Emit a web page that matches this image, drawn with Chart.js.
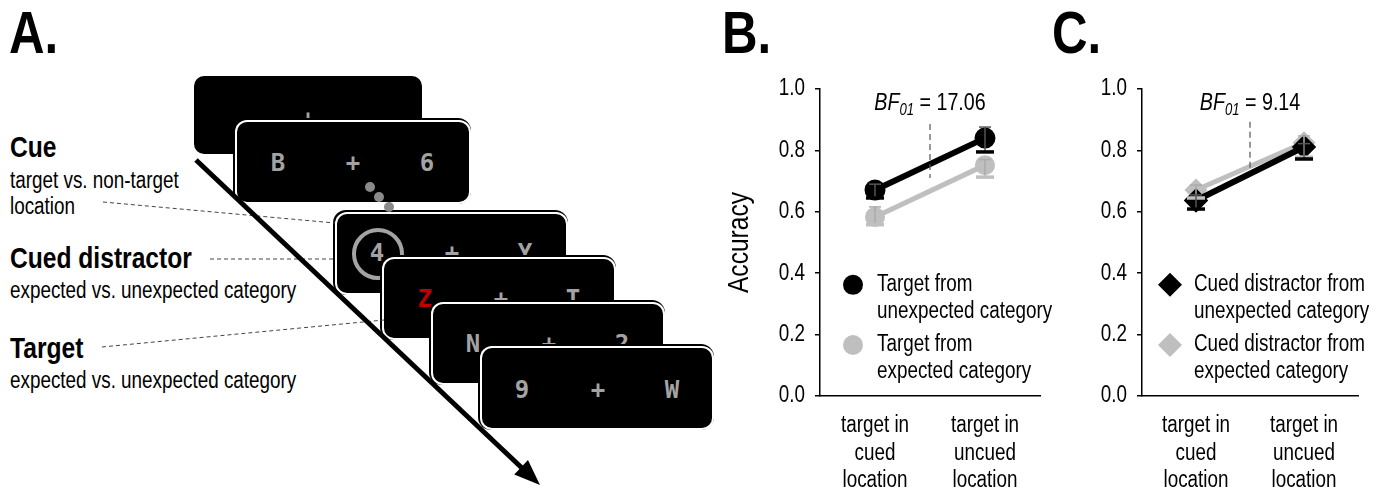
<!DOCTYPE html>
<html>
<head>
<meta charset="utf-8">
<script src="https://cdn.jsdelivr.net/npm/chart.js@4.4.1/dist/chart.umd.min.js"></script>
<style>
  body { margin: 0; background: #fff; width: 1384px; height: 490px; overflow: hidden; position: relative;
         font-family: "Liberation Sans", Arial, sans-serif; color: #000; }
  .abs { position: absolute; white-space: nowrap; }
  .letter { font-weight: bold; font-size: 60px; line-height: 60px; transform: scaleX(0.82); transform-origin: left top; }
  .head { font-weight: bold; font-size: 30px; line-height: 30px; transform: translateY(-50%) scaleX(0.82); transform-origin: left center; }
  .sub { font-size: 23px; line-height: 23px; transform: translateY(-50%) scaleX(0.82); transform-origin: left center; }
  .scr { position: absolute; background: #000; border-radius: 10px; box-shadow: 0 0 0 2px #fff, -1px -1px 0 3px #000; }
  .ch { position: absolute; transform: translate(-50%, -50%); font: bold 24px "DejaVu Sans Mono", monospace;
        color: #a3a3a3; line-height: 1; }
  canvas { position: absolute; }
</style>
</head>
<body>

<div class="abs letter" style="left:9px;top:3px">A.</div>
<div class="abs letter" style="left:722px;top:3px">B.</div>
<div class="abs letter" style="left:1052px;top:3px">C.</div>

<div class="abs head" style="left:10px;top:147px">Cue</div>
<div class="abs sub" style="left:10px;top:180px">target vs. non-target</div>
<div class="abs sub" style="left:10px;top:206px">location</div>
<div class="abs head" style="left:10px;top:258px">Cued distractor</div>
<div class="abs sub" style="left:10px;top:290px">expected vs. unexpected category</div>
<div class="abs head" style="left:10px;top:348px">Target</div>
<div class="abs sub" style="left:10px;top:380px">expected vs. unexpected category</div>

<div id="screens"></div>
<canvas id="overlay" width="720" height="490" style="left:0;top:0"></canvas>

<canvas id="chartB" width="340" height="490" style="left:720px;top:0"></canvas>
<canvas id="chartC" width="324" height="490" style="left:1060px;top:0"></canvas>

<script>
// ---- data ----
const categories = [['target in', 'cued', 'location'], ['target in', 'uncued', 'location']];

// panel B: target category
const bUnexpected = [0.671, 0.840];
const bUnexpectedLow = [0.645, 0.795];
const bUnexpectedHigh = [0.690, 0.876];
const bExpected = [0.583, 0.752];
const bExpectedLow = [0.558, 0.713];
const bExpectedHigh = [0.616, 0.770];
const bLegend = [['Target from', 'unexpected category'], ['Target from', 'expected category']];
const bfB = '17.06';
const bfLineB = [0.886, 0.71];

// panel C: cued distractor category
const cUnexpected = [0.637, 0.811];
const cUnexpectedLow = [0.609, 0.772];
const cUnexpectedHigh = [0.655, 0.822];
const cExpected = [0.671, 0.825];
const cExpectedLow = [0.645, 0.778];
const cExpectedHigh = [0.687, 0.847];
const cLegend = [['Cued distractor from', 'unexpected category'], ['Cued distractor from', 'expected category']];
const bfC = '9.14';
const bfLineC = [0.893, 0.73];

const FONT = '"Liberation Sans", Arial, sans-serif';
const NARROW_K = 0.82; // no narrow font installed, so squeeze the text
const GREY = '#bfbfbf';

// ---- panel A (schematic) ----
const screens = [
  { x: 194, y: 76, w: 228, h: 78, plain: true, chars: [['+', 308, 119]] },
  { x: 237, y: 122, w: 232, h: 80, chars: [['B', 278, 163], ['+', 353, 163], ['6', 427, 163]] },
  { x: 337, y: 214, w: 229, h: 79, ring: [377, 253], chars: [['4', 377, 253], ['+', 452, 253], ['Y', 525, 253]] },
  { x: 384, y: 259, w: 230, h: 79, chars: [['Z', 425, 299, '#c00000'], ['+', 501, 299], ['T', 573, 299]] },
  { x: 433, y: 304, w: 230, h: 79, chars: [['N', 473, 344], ['+', 549, 344], ['2', 622, 344]] },
  { x: 482, y: 348, w: 230, h: 80, chars: [['9', 522, 390], ['+', 598, 390], ['W', 672, 390]] }
];
const holder = document.getElementById('screens');
screens.forEach(s => {
  const d = document.createElement('div');
  d.className = 'scr';
  d.style.cssText = `left:${s.x}px;top:${s.y}px;width:${s.w}px;height:${s.h}px;` +
    (s.plain ? 'box-shadow:none;' : '');
  holder.appendChild(d);
  if (s.ring) {
    const r = document.createElement('div');
    r.className = 'abs';
    r.style.cssText = `left:${s.ring[0] - 25}px;top:${s.ring[1] - 25}px;width:44px;height:44px;` +
      'border:4px solid #a3a3a3;border-radius:50%';
    holder.appendChild(r);
  }
  s.chars.forEach(c => {
    const t = document.createElement('div');
    t.className = 'ch';
    t.textContent = c[0];
    t.style.left = c[1] + 'px';
    t.style.top = c[2] + 'px';
    if (c[3]) t.style.color = c[3];
    holder.appendChild(t);
  });
});

(function drawOverlay() {
  const ctx = document.getElementById('overlay').getContext('2d');
  // cue dots
  ctx.fillStyle = '#8a8a8a';
  [[370, 187], [379, 197], [389, 207]].forEach(p => {
    ctx.beginPath(); ctx.arc(p[0], p[1], 5, 0, Math.PI * 2); ctx.fill();
  });
  // dashed leader lines
  ctx.strokeStyle = '#444';
  ctx.lineWidth = 1;
  ctx.setLineDash([4, 3]);
  [[103, 202, 335, 223], [210, 259, 333, 259], [102, 347, 384, 320]].forEach(l => {
    ctx.beginPath(); ctx.moveTo(l[0], l[1]); ctx.lineTo(l[2], l[3]); ctx.stroke();
  });
  ctx.setLineDash([]);
  // time arrow
  const x0 = 196, y0 = 160, x1 = 540, y1 = 485;
  const ang = Math.atan2(y1 - y0, x1 - x0);
  const hl = 26, hw = 10;
  ctx.strokeStyle = '#000';
  ctx.lineWidth = 5;
  ctx.beginPath();
  ctx.moveTo(x0, y0);
  ctx.lineTo(x1 - Math.cos(ang) * hl * 0.8, y1 - Math.sin(ang) * hl * 0.8);
  ctx.stroke();
  ctx.fillStyle = '#000';
  ctx.beginPath();
  ctx.moveTo(x1, y1);
  ctx.lineTo(x1 - Math.cos(ang) * hl - Math.sin(ang) * hw, y1 - Math.sin(ang) * hl + Math.cos(ang) * hw);
  ctx.lineTo(x1 - Math.cos(ang) * hl + Math.sin(ang) * hw, y1 - Math.sin(ang) * hl - Math.cos(ang) * hw);
  ctx.closePath();
  ctx.fill();
})();

// squeeze every text the chart draws on this canvas horizontally
function condense(canvas) {
  const ctx = canvas.getContext('2d');
  const orig = CanvasRenderingContext2D.prototype.fillText;
  ctx.fillText = function (t, x, y, mw) {
    this.save();
    this.translate(x, y);
    this.scale(NARROW_K, 1);
    if (mw === undefined) orig.call(this, t, 0, 0);
    else orig.call(this, t, 0, 0, mw / NARROW_K);
    this.restore();
  };
  return canvas;
}

// ---- plugins ----
const errorBars = {
  id: 'errorBars',
  afterDatasetsDraw(chart) {
    const ctx = chart.ctx, ys = chart.scales.y;
    const seg = (a, b, c, d) => { ctx.beginPath(); ctx.moveTo(a, b); ctx.lineTo(c, d); ctx.stroke(); };
    for (let i = chart.data.datasets.length - 1; i >= 0; i--) {
      const ds = chart.data.datasets[i];
      chart.getDatasetMeta(i).data.forEach((pt, j) => {
        const yl = ys.getPixelForValue(ds.errLow[j]), yh = ys.getPixelForValue(ds.errHigh[j]);
        ctx.save();
        ctx.strokeStyle = ds.errColor;
        ctx.lineWidth = 1.5;
        seg(pt.x, yl, pt.x, yh);
        seg(pt.x - 6, yh, pt.x + 6, yh);
        ctx.strokeStyle = ds.borderColor;
        ctx.lineWidth = 3.5;
        seg(pt.x - 9, yl, pt.x + 9, yl);
        ctx.restore();
      });
    }
  }
};

const bfNote = {
  id: 'bfNote',
  afterDraw(chart, args, opts) {
    const ctx = chart.ctx, xs = chart.scales.x, ys = chart.scales.y;
    const x = xs.getPixelForValue(0.5);
    ctx.save();
    ctx.strokeStyle = '#555';
    ctx.lineWidth = 1.2;
    ctx.setLineDash([6, 4]);
    ctx.beginPath();
    ctx.moveTo(x, ys.getPixelForValue(opts.line[0]));
    ctx.lineTo(x, ys.getPixelForValue(opts.line[1]));
    ctx.stroke();
    ctx.setLineDash([]);
    const fBig = `italic 24px ${FONT}`, fSub = `italic 16px ${FONT}`, fReg = `24px ${FONT}`;
    const rest = ' = ' + opts.value;
    ctx.font = fBig; const w1 = ctx.measureText('BF').width * NARROW_K;
    ctx.font = fSub; const w2 = ctx.measureText('01').width * NARROW_K;
    ctx.font = fReg; const w3 = ctx.measureText(rest).width * NARROW_K;
    let tx = x - (w1 + w2 + w3) / 2;
    const ty = ys.getPixelForValue(opts.textY);
    ctx.fillStyle = '#000';
    ctx.textBaseline = 'alphabetic';
    ctx.textAlign = 'left';
    ctx.font = fBig; ctx.fillText('BF', tx, ty); tx += w1;
    ctx.font = fSub; ctx.fillText('01', tx, ty + 5); tx += w2;
    ctx.font = fReg; ctx.fillText(rest, tx, ty);
    ctx.restore();
  }
};

const innerLegend = {
  id: 'innerLegend',
  afterDraw(chart, args, opts) {
    const ctx = chart.ctx, ys = chart.scales.y, left = chart.chartArea.left;
    ctx.save();
    chart.data.datasets.forEach((ds, i) => {
      const cy = ys.getPixelForValue(opts.rows[i]);
      const mx = left + opts.markerX, r = opts.markerR;
      ctx.fillStyle = ds.backgroundColor;
      ctx.beginPath();
      if (ds.pointStyle === 'rectRot') {
        ctx.moveTo(mx, cy - r); ctx.lineTo(mx + r, cy); ctx.lineTo(mx, cy + r); ctx.lineTo(mx - r, cy);
        ctx.closePath();
      } else {
        ctx.arc(mx, cy, r, 0, Math.PI * 2);
      }
      ctx.fill();
      ctx.fillStyle = '#000';
      ctx.font = `23px ${FONT}`;
      ctx.textBaseline = 'middle';
      ctx.textAlign = 'left';
      ds.legendLines.forEach((t, k) => ctx.fillText(t, left + opts.textX, cy + k * 27));
    });
    ctx.restore();
  }
};

function makeChart(id, sets, opt) {
  return new Chart(condense(document.getElementById(id)), {
    type: 'line',
    data: { labels: categories, datasets: sets },
    plugins: [errorBars, bfNote, innerLegend],
    options: {
      responsive: false,
      animation: false,
      devicePixelRatio: 1,
      layout: { padding: { top: 89, right: opt.padRight, left: 0, bottom: 0 } },
      plugins: {
        legend: { display: false },
        tooltip: { enabled: false },
        bfNote: { value: opt.bf, line: opt.bfLine, textY: 0.93 },
        innerLegend: { rows: [0.362, 0.166], markerX: opt.markerX, markerR: opt.markerR, textX: opt.textX }
      },
      scales: {
        x: {
          offset: true,
          afterFit: s => { s.height = 94; },
          grid: { display: true, drawOnChartArea: false, drawTicks: false },
          border: { display: true, color: '#000', width: 1.5 },
          ticks: { color: '#000', font: { family: FONT, size: 23 }, padding: 16, maxRotation: 0, autoSkip: false }
        },
        y: {
          min: 0, max: 1,
          afterFit: s => { s.width = opt.yWidth; },
          grid: { drawOnChartArea: false, drawTicks: true, tickLength: 5, color: '#000', lineWidth: 1.5 },
          border: { display: true, color: '#000', width: 1.5 },
          ticks: { stepSize: 0.2, color: '#000', font: { family: FONT, size: 23 }, padding: 10,
                   callback: v => v.toFixed(1) },
          title: { display: opt.title, text: 'Accuracy', color: '#000', font: { family: FONT, size: 30 },
                   padding: { top: 2, bottom: 0 } }
        }
      }
    }
  });
}

makeChart('chartB', [
  { label: bLegend[0].join(' '), legendLines: bLegend[0], data: bUnexpected, errLow: bUnexpectedLow, errHigh: bUnexpectedHigh,
    borderColor: '#000', backgroundColor: '#000', errColor: '#555', borderWidth: 6, pointStyle: 'circle', pointRadius: 7.5 },
  { label: bLegend[1].join(' '), legendLines: bLegend[1], data: bExpected, errLow: bExpectedLow, errHigh: bExpectedHigh,
    borderColor: GREY, backgroundColor: GREY, errColor: '#aaa', borderWidth: 5, pointStyle: 'circle', pointRadius: 7.5 }
], { padRight: 20, yWidth: 100, title: true, bf: bfB, bfLine: bfLineB, markerX: 33, markerR: 10, textX: 57 });

makeChart('chartC', [
  { label: cLegend[0].join(' '), legendLines: cLegend[0], data: cUnexpected, errLow: cUnexpectedLow, errHigh: cUnexpectedHigh,
    borderColor: '#000', backgroundColor: '#000', errColor: '#555', borderWidth: 6, pointStyle: 'rectRot', pointRadius: 8 },
  { label: cLegend[1].join(' '), legendLines: cLegend[1], data: cExpected, errLow: cExpectedLow, errHigh: cExpectedHigh,
    borderColor: GREY, backgroundColor: GREY, errColor: '#aaa', borderWidth: 5, pointStyle: 'rectRot', pointRadius: 8 }
], { padRight: 26, yWidth: 82, title: false, bf: bfC, bfLine: bfLineC, markerX: 28, markerR: 12, textX: 52 });
</script>
</body>
</html>
